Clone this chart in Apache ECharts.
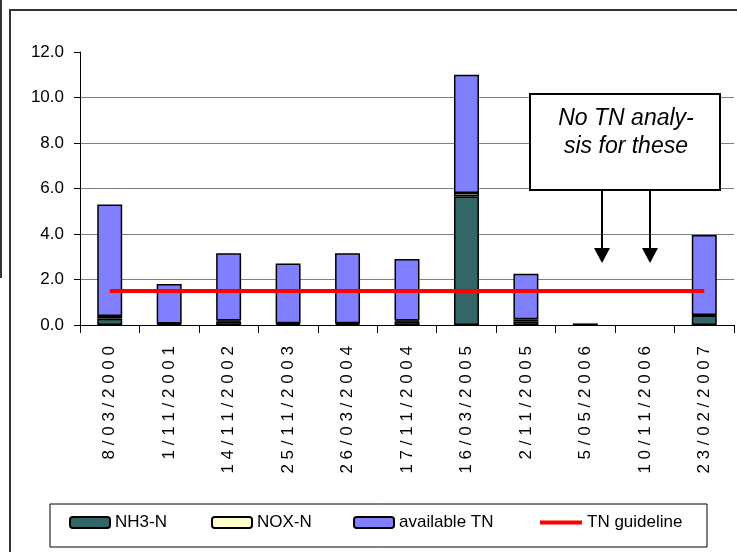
<!DOCTYPE html>
<html>
<head>
<meta charset="utf-8">
<script src="https://cdn.jsdelivr.net/npm/echarts@6/dist/echarts.min.js"></script>
<style>html,body{margin:0;padding:0;background:#fff;}#c{width:737px;height:552px;}</style>
</head>
<body>
<div id="c"></div>
<script>
var categories = ['8/03/2000','1/11/2001','14/11/2002','25/11/2003','26/03/2004','17/11/2004','16/03/2005','2/11/2005','5/05/2006','10/11/2006','23/02/2007'];
var nh3N = [0.28, 0.05, 0.15, 0.05, 0.05, 0.15, 5.65, 0.15, 0.07, null, 0.42];
var noxN = [0.12, 0.02, 0.05, 0.03, 0.03, 0.05, 0.15, 0.10, null, null, 0.02];
var availableTN = [4.9, 1.73, 2.95, 2.62, 3.07, 2.7, 5.2, 2.0, null, null, 3.52];
var tnGuideline = [1.5, 1.5, 1.5, 1.5, 1.5, 1.5, 1.5, 1.5, 1.5, 1.5, 1.5];
var yTicks = [0, 2, 4, 6, 8, 10, 12];

var FONT = "'Liberation Sans', Arial, sans-serif";
var chart = echarts.init(document.getElementById('c'), null, {renderer: 'canvas'});

function spaced(s) { return s.split('').join(' '); }

function legendItem(name, left, w, h, icon) {
  var l = {
    data: [name], left: left, top: 514, orient: 'horizontal',
    itemWidth: w, itemHeight: h, itemGap: 0, padding: 0,
    textStyle: {fontFamily: FONT, fontSize: 17, color: '#000'},
    selectedMode: false
  };
  if (icon) { l.data = [{name: name, icon: icon}]; }
  return l;
}

var option = {
  animation: false,
  backgroundColor: '#fff',
  grid: {left: 80, right: 3, top: 52, bottom: 227, containLabel: false},
  legend: [
    legendItem('NH3-N', 69, 40, 11),
    legendItem('NOX-N', 211, 40, 11),
    legendItem('available TN', 353, 40, 11),
    legendItem('TN guideline', 540, 42, 4, 'rect')
  ],
  xAxis: {
    type: 'category', data: categories, boundaryGap: true,
    axisLine: {show: true, lineStyle: {color: '#000', width: 1}},
    axisTick: {show: true, length: 8, alignWithLabel: false, lineStyle: {color: '#000'}},
    axisLabel: {rotate: 90, margin: 21, interval: 0, fontFamily: FONT, fontSize: 17, color: '#000',
      formatter: function (v) { return spaced(v); }},
    splitLine: {show: false}
  },
  yAxis: {
    type: 'value', min: yTicks[0], max: yTicks[yTicks.length - 1], interval: 2,
    axisLine: {show: true, lineStyle: {color: '#000', width: 1}},
    axisTick: {show: true, length: 6, inside: false, lineStyle: {color: '#000'}},
    axisLabel: {margin: 16, fontFamily: FONT, fontSize: 17, color: '#000',
      formatter: function (v) { return v.toFixed(1); }},
    splitLine: {show: true, showMaxLine: false, lineStyle: {color: '#808080', width: 1}}
  },
  series: [
    {name: 'NH3-N', type: 'bar', stack: 'n', data: nh3N, barWidth: '42%',
      itemStyle: {color: '#336666', borderColor: '#000', borderWidth: 1.5}},
    {name: 'NOX-N', type: 'bar', stack: 'n', data: noxN,
      itemStyle: {color: '#FFFFCC', borderColor: '#000', borderWidth: 1.5}},
    {name: 'available TN', type: 'bar', stack: 'n', data: availableTN,
      itemStyle: {color: '#8080FF', borderColor: '#000', borderWidth: 1.5}},
    {name: 'TN guideline', type: 'line', data: tnGuideline, symbol: 'none', z: 5,
      lineStyle: {color: '#FF0000', width: 4}, itemStyle: {color: '#FF0000', borderWidth: 0}}
  ],
  graphic: [
    {type: 'line', shape: {x1: 1, y1: 0, x2: 1, y2: 278}, style: {stroke: '#333', lineWidth: 2}},
    {type: 'rect', shape: {x: 10, y: 10, width: 760, height: 560}, style: {fill: 'none', stroke: '#333', lineWidth: 2}, z: 100},
    {type: 'rect', shape: {x: 50, y: 504, width: 657, height: 43}, style: {fill: 'none', stroke: '#000', lineWidth: 1}, z: 100},
    {type: 'rect', shape: {x: 530, y: 94, width: 190, height: 96}, style: {fill: '#fff', stroke: '#000', lineWidth: 2}, z: 100},
    {type: 'text', x: 626, y: 119, style: {text: 'No TN analy-', fontFamily: FONT, fontSize: 23, fontStyle: 'italic', fill: '#000', align: 'center', verticalAlign: 'middle'}, z: 101},
    {type: 'text', x: 626, y: 147, style: {text: 'sis for these', fontFamily: FONT, fontSize: 23, fontStyle: 'italic', fill: '#000', align: 'center', verticalAlign: 'middle'}, z: 101},
    {type: 'line', shape: {x1: 602, y1: 190, x2: 602, y2: 250}, style: {stroke: '#000', lineWidth: 2}, z: 100},
    {type: 'polygon', shape: {points: [[594, 248], [610, 248], [602, 263]]}, style: {fill: '#000'}, z: 100},
    {type: 'line', shape: {x1: 650, y1: 190, x2: 650, y2: 250}, style: {stroke: '#000', lineWidth: 2}, z: 100},
    {type: 'polygon', shape: {points: [[642, 248], [658, 248], [650, 263]]}, style: {fill: '#000'}, z: 100}
  ]
};
chart.setOption(option);
</script>
</body>
</html>
